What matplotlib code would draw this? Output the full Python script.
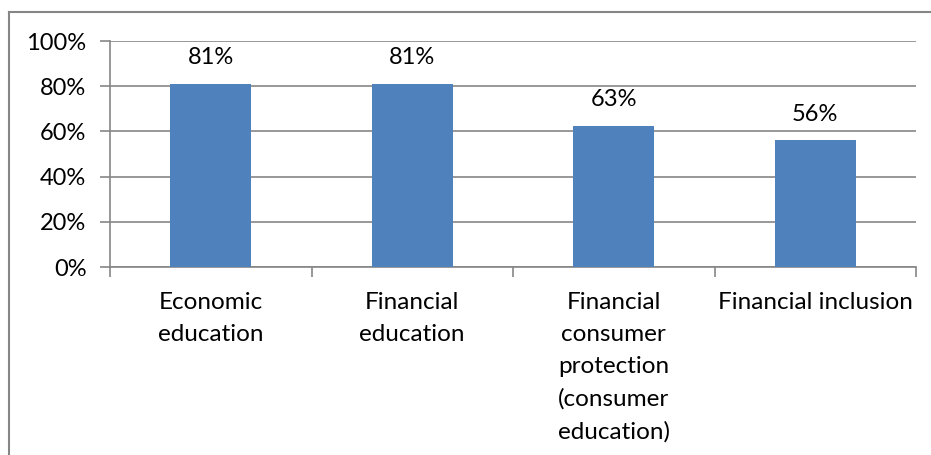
import numpy as np
import matplotlib.pyplot as plt
from matplotlib.lines import Line2D

categories = ["Economic\neducation", "Financial\neducation",
              "Financial\nconsumer\nprotection\n(consumer\neducation)",
              "Financial inclusion"]
values = [0.81, 0.81, 0.625, 0.56]
value_labels = ["81%", "81%", "63%", "56%"]

plt.rcParams["font.family"] = ["Lato", "DejaVu Sans"]

fig = plt.figure(figsize=(9.31, 4.55), dpi=100)
ax = fig.add_axes([110 / 931, 1 - 267 / 455, 806 / 931, 226 / 455])

grid_color = "#868686"
x = np.arange(len(categories))
ax.bar(x, values, width=0.4, color="#4f81bd", zorder=3)

for xi, v, lab in zip(x, values, value_labels):
    ax.text(xi, v + 0.07, lab, ha="center", va="bottom", fontsize=17, color="black")

ax.set_xlim(-0.5, len(categories) - 0.5)
ax.set_ylim(0, 1)
ax.set_yticks(np.arange(0, 1.01, 0.2))
ax.set_yticklabels([f"{int(round(t * 100))}%" for t in np.arange(0, 1.01, 0.2)], fontsize=17)
ax.yaxis.grid(True, color=grid_color, linewidth=1.2, zorder=0)

ax.set_xticks(x)
ax.set_xticklabels(categories, fontsize=17.5, linespacing=1.65, va="top")
ax.set_xticks(np.arange(-0.5, len(categories), 1.0), minor=True)
ax.tick_params(axis="x", which="major", length=0, pad=18)
ax.tick_params(axis="x", which="minor", length=7, color=grid_color, width=1.2, direction="out")
ax.tick_params(axis="y", length=7, color=grid_color, width=1.2, pad=10)

for side in ["top", "right"]:
    ax.spines[side].set_visible(False)
for side in ["left", "bottom"]:
    ax.spines[side].set_color(grid_color)
    ax.spines[side].set_linewidth(1.2)

# outer chart border (only left and top visible in the crop)
fig.add_artist(Line2D([9 / 931, 9 / 931], [0, 1 - 12 / 455], transform=fig.transFigure,
                      color=grid_color, linewidth=1.5))
fig.add_artist(Line2D([9 / 931, 1], [1 - 12 / 455, 1 - 12 / 455], transform=fig.transFigure,
                      color=grid_color, linewidth=1.5))

fig.savefig("out.png", dpi=100)
